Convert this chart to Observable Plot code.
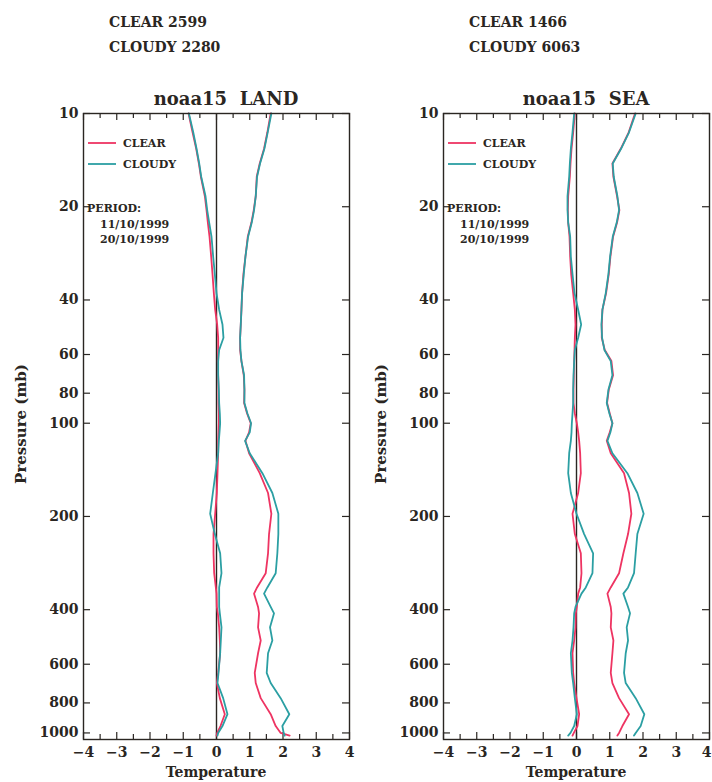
<!DOCTYPE html>
<html><head><meta charset="utf-8">
<script src="https://cdn.jsdelivr.net/npm/d3@7"></script>
<script src="https://cdn.jsdelivr.net/npm/@observablehq/plot@0.6"></script>
<style>
body{margin:0;background:#fff;}
#wrap{position:relative;width:712px;height:782px;overflow:hidden;background:#fff;}
#wrap > div.panel{position:absolute;top:0;}
</style></head><body><div id="wrap"></div>
<script>
// ---- data ----
const pressureLevels = [10, 11.5, 13, 14.5, 16, 18.5, 20.5, 22.5, 25, 29, 33, 38, 43, 48, 53, 58, 63, 70, 78, 86, 93, 100, 107, 114, 125, 145, 168, 196, 228, 263, 305, 339, 355, 392, 411, 456, 503, 553, 640, 690, 772, 870, 950, 1000, 1020];

const landClearStd  = [1.63,1.53,1.43,1.30,1.21, 1.18,1.12,1.05,0.94,0.87, 0.81,0.77,0.75,0.73,0.71, 0.71,0.75,0.82,0.84,0.83, 0.92,1.03,0.98,0.87,0.98, 1.30,1.55,1.65,1.58,1.55, 1.48,1.22,1.13,1.25,1.28, 1.25,1.33,1.25,1.15,1.18, 1.33,1.63,1.78,1.93,2.20];
const landCloudyStd = [1.65,1.54,1.44,1.31,1.22, 1.18,1.13,1.06,0.95,0.87, 0.82,0.77,0.75,0.73,0.71, 0.72,0.75,0.83,0.84,0.84, 0.93,1.04,1.00,0.86,1.00, 1.38,1.68,1.86,1.86,1.83, 1.78,1.53,1.43,1.63,1.73, 1.61,1.68,1.55,1.51,1.63, 1.93,2.19,1.98,2.02,2.05];
const landClearBias = [-0.84,-0.72,-0.61,-0.53,-0.47, -0.35,-0.30,-0.26,-0.21,-0.16, -0.12,-0.08,-0.04,0.02,0.05, 0.05,0.04,0.05,0.06,0.06, 0.07,0.07,0.06,0.05,0.05, 0.03,0.01,-0.04,-0.09,-0.09, -0.07,-0.02,0.00,0.01,0.04, 0.08,0.10,0.11,0.05,0.01, 0.10,0.25,0.12,0.02,0.00];
const landCloudyBias = [-0.83,-0.70,-0.60,-0.52,-0.46, -0.33,-0.28,-0.22,-0.15,-0.10, -0.05,0.00,0.08,0.18,0.21, 0.08,0.05,0.05,0.07,0.08, 0.10,0.11,0.09,0.07,0.05, -0.03,-0.11,-0.19,-0.05,0.11, 0.15,0.08,0.08,0.08,0.10, 0.15,0.13,0.11,0.06,0.03, 0.20,0.33,0.18,0.05,0.03];

const seaClearStd  = [1.76,1.57,1.33,1.08,1.11, 1.22,1.29,1.22,1.10,1.02, 0.97,0.89,0.78,0.76,0.76, 0.85,1.05,1.10,0.97,0.92, 1.00,1.08,1.00,0.91,1.03, 1.43,1.58,1.65,1.55,1.41, 1.28,1.03,0.93,1.03,1.05, 1.03,1.11,1.08,1.03,1.08, 1.28,1.58,1.38,1.28,1.23];
const seaCloudyStd = [1.78,1.58,1.34,1.09,1.12, 1.23,1.28,1.21,1.09,1.01, 0.96,0.88,0.78,0.75,0.77, 0.84,1.03,1.08,0.96,0.91, 0.99,1.08,1.02,0.93,1.08, 1.53,1.83,2.02,1.83,1.78, 1.73,1.55,1.41,1.55,1.61, 1.51,1.55,1.48,1.43,1.48, 1.78,2.04,1.93,1.78,1.73];
const seaClearBias = [-0.05,-0.10,-0.15,-0.18,-0.20, -0.25,-0.26,-0.25,-0.21,-0.19, -0.16,-0.10,-0.05,-0.03,-0.05, -0.06,-0.07,-0.08,-0.09,-0.09, -0.05,0.01,0.05,0.08,0.11, 0.13,0.05,-0.12,-0.05,0.13, 0.15,0.11,0.05,0.01,-0.02, -0.03,-0.07,-0.12,-0.10,-0.07, 0.00,0.08,0.03,-0.08,-0.12];
const seaCloudyBias = [-0.07,-0.12,-0.17,-0.20,-0.22, -0.27,-0.27,-0.25,-0.19,-0.17, -0.12,-0.06,0.05,0.14,0.05, -0.05,-0.07,-0.09,-0.10,-0.10, -0.12,-0.14,-0.15,-0.17,-0.22, -0.25,-0.17,0.00,0.23,0.50, 0.48,0.28,0.15,-0.03,-0.07, -0.09,-0.12,-0.17,-0.14,-0.10, -0.05,0.01,-0.07,-0.18,-0.25];

const panelNames = ["LAND", "SEA"];
const clearCounts = [2599, 1466];
const cloudyCounts = [2280, 6063];
const seriesNames = ["CLEAR", "CLOUDY"];
const periodLines = ["PERIOD:", "11/10/1999", "20/10/1999"];
const xTickValues = [-4, -3, -2, -1, 0, 1, 2, 3, 4];
const xMinorTicks = [-3.5, -2.5, -1.5, -0.5, 0.5, 1.5, 2.5, 3.5];
const yTickValues = [10, 20, 40, 60, 80, 100, 200, 400, 600, 800, 1000];

// ---- styles ----
const RED = "#ee3462", TEAL = "#2b9fa3", INK = "#2a2622";
const FONT = "'DejaVu Serif', serif";

const panelData = [
  {clearStd: landClearStd, cloudyStd: landCloudyStd, clearBias: landClearBias, cloudyBias: landCloudyBias},
  {clearStd: seaClearStd, cloudyStd: seaCloudyStd, clearBias: seaClearBias, cloudyBias: seaCloudyBias}
];

const wrap = document.getElementById("wrap");
const W = 356, H = 782, MT = 113, MB = 43;
const frameW = 266, frameH = H - MT - MB;
const layouts = [{left: 0, ml: 83, mr: 7}, {left: 356, ml: 87, mr: 3}];

panelData.forEach((pd, i) => {
  const rows = [];
  const add = (arr, kind, stat) => arr.forEach((t, j) => rows.push({p: pressureLevels[j], t, kind, key: kind + stat}));
  add(pd.clearBias, "CLEAR", "bias");
  add(pd.clearStd, "CLEAR", "std");
  add(pd.cloudyBias, "CLOUDY", "bias");
  add(pd.cloudyStd, "CLOUDY", "std");
  const L = layouts[i];
  const lastDx = i === 1 ? -3 : 0;
  const svg = Plot.plot({
    width: W, height: H,
    marginLeft: L.ml, marginRight: L.mr, marginTop: MT, marginBottom: MB,
    style: {fontFamily: FONT, fontWeight: "bold", fontSize: "14px", color: INK, background: "transparent", overflow: "visible"},
    x: {domain: [-4, 4]},
    y: {type: "log", domain: [10, 1050], reverse: true},
    color: {domain: seriesNames, range: [RED, TEAL]},
    marks: [
      Plot.ruleX([0], {stroke: INK, strokeWidth: 1.4}),
      Plot.tickX(xTickValues, {x: d => d, insetBottom: frameH - 7, stroke: INK, strokeWidth: 1.2}),
      Plot.tickX(xMinorTicks, {x: d => d, insetBottom: frameH - 5, stroke: INK, strokeWidth: 1.2}),
      Plot.tickX(xTickValues, {x: d => d, insetTop: frameH - 7, stroke: INK, strokeWidth: 1.2}),
      Plot.tickX(xMinorTicks, {x: d => d, insetTop: frameH - 5, stroke: INK, strokeWidth: 1.2}),
      Plot.tickY(yTickValues, {y: d => d, insetRight: frameW - 7, stroke: INK, strokeWidth: 1.2}),
      Plot.tickY(yTickValues, {y: d => d, insetLeft: frameW - 7, stroke: INK, strokeWidth: 1.2}),
      Plot.axisX(xTickValues.slice(0, -1), {anchor: "bottom", tickSize: 0, tickPadding: 8, label: null, fontSize: 14, fill: INK}),
      Plot.axisX(xTickValues.slice(-1), {anchor: "bottom", tickSize: 0, tickPadding: 8, label: null, fontSize: 14, fill: INK, dx: lastDx}),
      Plot.axisY(yTickValues, {anchor: "left", tickSize: 0, tickPadding: 5, label: null, tickFormat: d => String(d), fontSize: 14, fill: INK}),
      Plot.line(rows, {x: "t", y: "p", z: "key", stroke: "kind", strokeWidth: 1.8, curve: "linear"}),
      Plot.frame({stroke: INK, strokeWidth: 1.4})
    ]
  });
  const div = document.createElement("div");
  div.className = "panel";
  div.style.left = L.left + "px";
  div.appendChild(svg);
  wrap.appendChild(div);
});

// ---- annotations overlay ----
const ov = d3.select(wrap).append("svg")
  .attr("width", 712).attr("height", 782)
  .style("position", "absolute").style("left", 0).style("top", 0)
  .style("font-family", FONT).style("font-weight", "bold").style("fill", INK);

function txt(x, y, s, size, anchor = "start", rotate = false) {
  const t = ov.append("text").attr("x", x).attr("y", y).attr("font-size", size)
    .attr("text-anchor", anchor).style("white-space", "pre").attr("fill", INK).text(s);
  if (rotate) t.attr("transform", `rotate(-90 ${x} ${y})`);
  return t;
}

panelNames.forEach((name, i) => {
  const o = i * 360;
  txt(109 + o, 27, `CLEAR ${clearCounts[i]}`, 14);
  txt(109 + o, 52, `CLOUDY ${cloudyCounts[i]}`, 14);
  txt(226 + o, 105, `noaa15  ${name}`, 18, "middle");
  txt(26 + o, 424, "Pressure (mb)", 15, "middle", true);
  txt(216 + o, 777, "Temperature", 14, "middle");
  // legend
  [RED, TEAL].forEach((c, k) => {
    const y = 143 + k * 21;
    ov.append("line").attr("x1", 88 + o).attr("x2", 116 + o).attr("y1", y).attr("y2", y)
      .attr("stroke", c).attr("stroke-width", 1.8);
    txt(123 + o, y + 4, seriesNames[k], 11);
  });
  txt(87 + o, 212, periodLines[0], 11);
  txt(100 + o, 228, periodLines[1], 11);
  txt(100 + o, 243, periodLines[2], 11);
});
</script>
</body></html>
